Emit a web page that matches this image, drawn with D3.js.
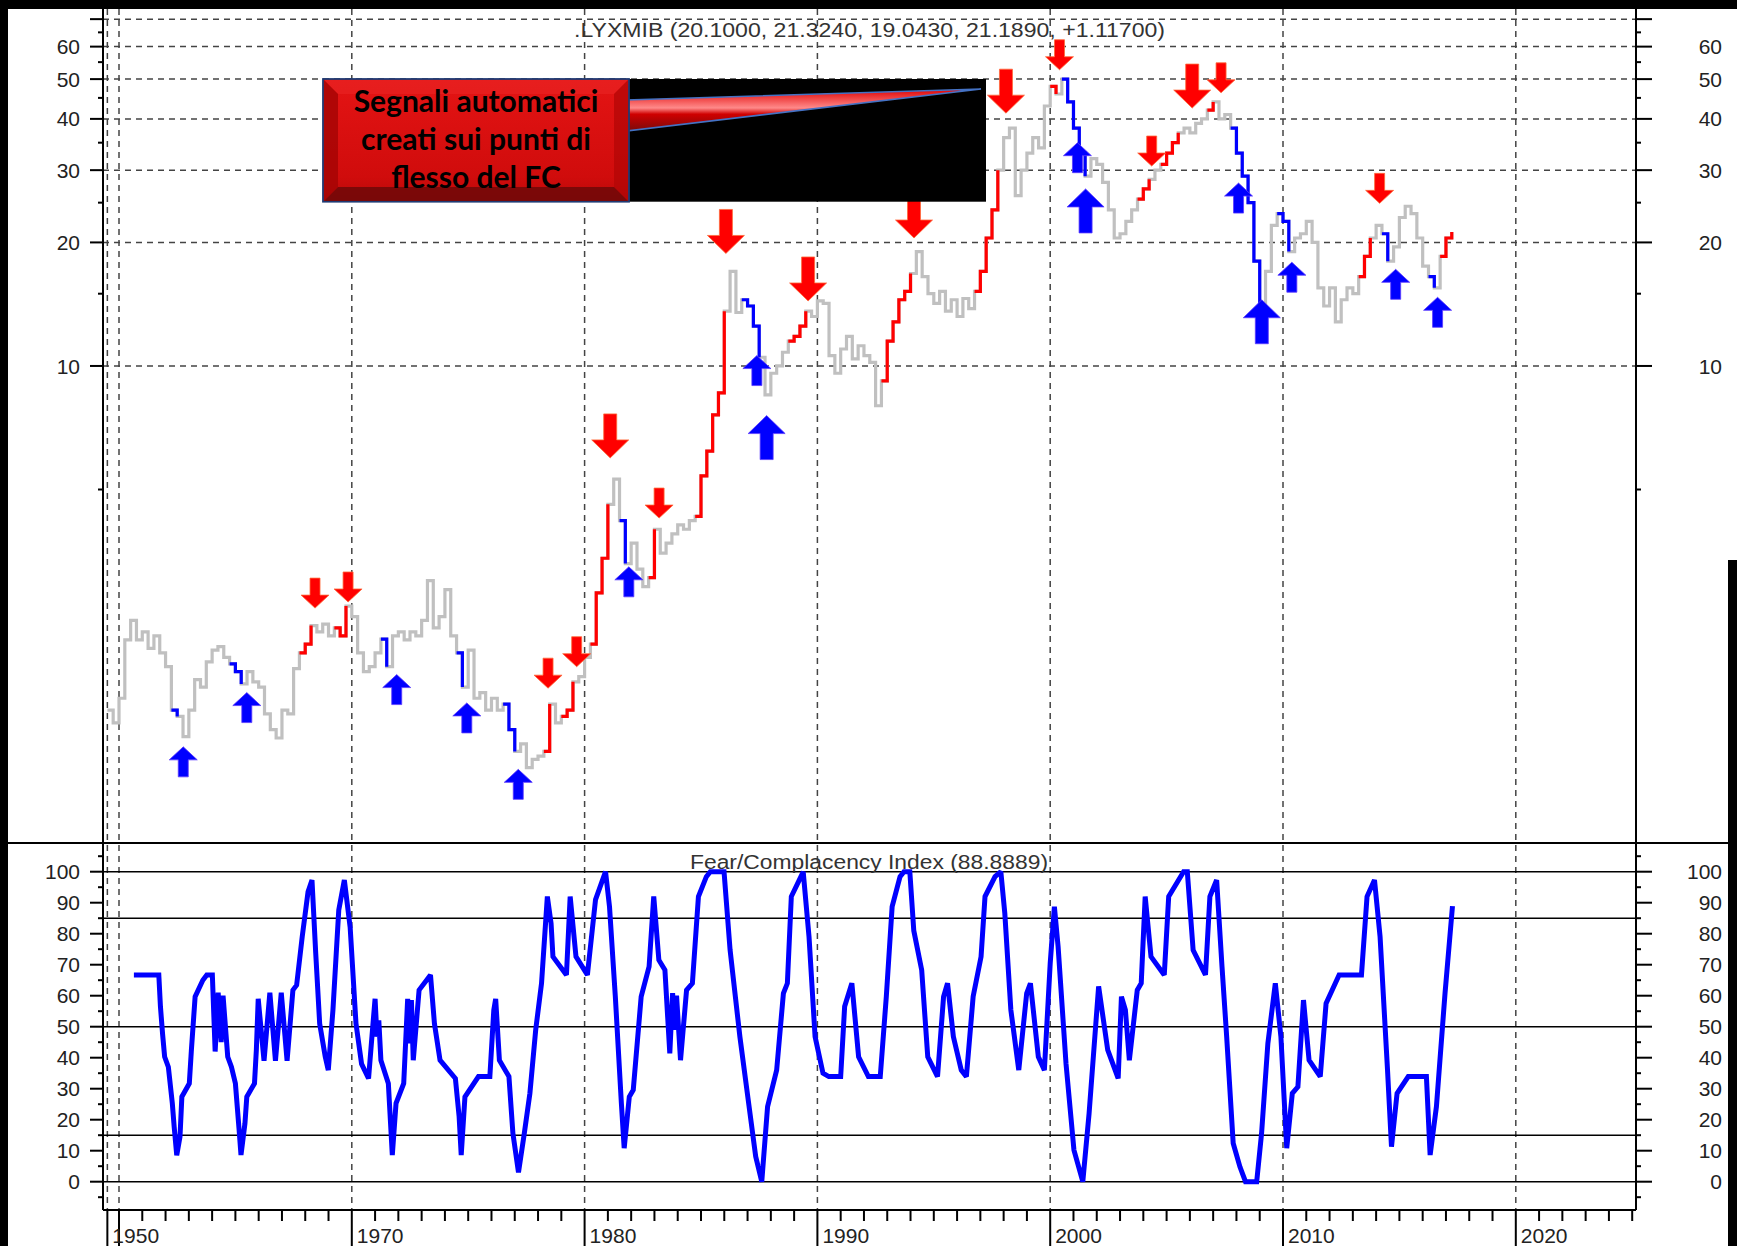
<!DOCTYPE html>
<html>
<head>
<meta charset="utf-8">
<script src="https://cdn.jsdelivr.net/npm/d3@7"></script>
<style>
body { margin: 0; background: #fff; }
text { font-family: "Liberation Sans", Arial, sans-serif; }
</style>
</head>
<body>
<script>
const width = 1737;
const height = 1246;

// quarterly closes of the index, first value is 1959.5
const priceStart = 1959.5;
const priceValues = [
    1.45, 1.35,
    1.55, 2.15, 2.4, 2.15,   2.25, 2.05, 2.2, 2.0,    1.85, 1.45, 1.4, 1.25,   1.45, 1.72, 1.65, 1.9,
    2.03, 2.07, 1.95, 1.88,  1.8, 1.68, 1.8, 1.7,     1.65, 1.42, 1.3, 1.24,   1.45, 1.42, 1.83, 2.0,
    2.1, 2.33, 2.25, 2.35,   2.2, 2.3, 2.2, 2.6,      2.45, 2.0, 1.8, 1.85,    2.0, 2.16, 1.85, 2.2,
    2.25, 2.15, 2.25, 2.2,   2.4, 3.0, 2.3, 2.45,     2.85, 2.2, 2.0, 1.65,    2.03, 1.55, 1.6, 1.45,
    1.55, 1.45, 1.5, 1.3,    1.15, 1.2, 1.05, 1.1,    1.12, 1.15, 1.5, 1.35,   1.4, 1.45, 1.7, 1.75,
    1.95, 2.1, 2.8, 3.4,     4.6, 5.3, 4.2, 3.3,      3.7, 3.2, 2.9, 3.05,     4.0, 3.5, 3.7, 3.9,
    4.1, 4.0, 4.2, 4.3,      5.4, 6.2, 7.6, 8.6,      13.6, 17.0, 13.5, 14.5,  14.0, 12.5, 10.5, 8.5,
    9.6, 10.0, 10.8, 11.5,   11.8, 12.5, 13.6, 13.2,  14.4, 14.2, 10.6, 9.6,   11.0, 11.8, 10.4, 11.2,
    10.6, 10.2, 8.0, 9.2,    11.5, 12.8, 14.5, 15.2,  16.8, 19.0, 16.5, 15.0,  14.2, 15.2, 13.6, 14.5,
    13.2, 14.6, 13.8, 15.2,  17.0, 20.5, 24.0, 30.0,  36.0, 38.0, 26.0, 30.0,  33.0, 36.0, 34.0, 43.0,
    48.0, 46.0, 50.0, 44.0,  38.0, 33.0, 29.0, 32.0,  31.0, 28.0, 24.0, 20.5,  21.0, 22.5, 24.0, 25.5,
    27.0, 28.5, 30.0, 31.0,  33.0, 35.0, 37.0, 38.0,  37.0, 39.0, 40.0, 42.0,  44.0, 40.0, 41.0, 38.0,
    33.0, 29.0, 25.0, 18.0,  13.0, 17.0, 22.0, 23.5,  22.5, 19.0, 20.5, 21.0,  22.5, 20.0, 15.5, 14.0,
    15.5, 12.8, 14.5, 15.5,  15.0, 16.5, 18.5, 20.5,  22.0, 21.0, 18.0, 19.5,  23.0, 24.5, 23.5, 20.5,
    17.5, 16.5, 15.5, 18.5,  20.5, 21.2
];

// periods painted as signals (years, start and end)
const redRanges = [
    [1967.75, 1968.25], [1969.25, 1969.75], [1978.25, 1978.5], [1979.0, 1979.5],
    [1980.25, 1981.0], [1982.75, 1983.0], [1984.75, 1986.0], [1988.75, 1989.5],
    [1992.75, 1994.0], [1996.75, 1997.75], [2000.0, 2000.25], [2003.75, 2004.25],
    [2004.75, 2005.5], [2006.75, 2007.0], [2013.25, 2013.75], [2016.75, 2017.25]
];
const blueRanges = [
    [1962.25, 1962.5], [1964.75, 1965.25], [1971.25, 1971.5], [1974.5, 1974.75],
    [1976.5, 1977.0], [1981.5, 1981.75], [1986.75, 1987.5], [2000.5, 2001.5],
    [2007.75, 2009.0], [2009.75, 2010.25], [2014.25, 2014.5], [2016.25, 2016.5]
];

// sell / buy arrows: year, price level at the arrow tip, big or small
const downYears = [1968.42, 1969.84, 1978.43, 1979.66, 1981.1, 1983.2, 1986.07, 1989.6, 1994.15, 1998.1, 2000.4, 2004.36, 2006.1, 2007.34, 2014.15];
const downLevels = [2.57, 2.66, 1.64, 1.85, 5.97, 4.26, 18.8, 14.4, 20.5, 41.3, 52.7, 30.7, 42.5, 46.3, 24.9];
const downBig = [0, 0, 0, 0, 1, 0, 1, 1, 1, 1, 0, 0, 1, 0, 0];
const upYears = [1962.76, 1965.49, 1971.93, 1974.94, 1977.15, 1981.9, 1987.4, 1987.82, 2001.17, 2001.52, 2008.09, 2009.09, 2010.38, 2014.84, 2016.64];
const upLevels = [1.18, 1.6, 1.77, 1.51, 1.04, 3.24, 10.6, 7.57, 35, 27, 27.9, 14.5, 17.9, 17.2, 14.7];
const upBig = [0, 0, 0, 0, 0, 0, 0, 1, 0, 1, 0, 1, 0, 0, 0];

// Fear/Complacency index
const fcYears = [
    1960.64, 1961.71, 1961.78, 1961.87, 1961.96, 1962.12, 1962.29, 1962.37, 1962.48, 1962.62, 1962.7, 1963.02, 1963.11, 1963.27, 1963.6, 1963.77,
    1964.01, 1964.13, 1964.26, 1964.39, 1964.47, 1964.67, 1964.83, 1965.0, 1965.16, 1965.24, 1965.41, 1965.49, 1965.82, 1965.9, 1965.98,
    1966.23, 1966.48, 1966.72, 1966.97, 1967.22, 1967.47, 1967.63, 1967.87, 1968.12, 1968.29, 1968.45, 1968.62, 1968.86, 1968.99,
    1969.19, 1969.44, 1969.68, 1969.93, 1970.18, 1970.42, 1970.72, 1970.91, 1971.0, 1971.08, 1971.16, 1971.25, 1971.57, 1971.74, 1971.9,
    1972.23, 1972.4, 1972.48, 1972.56, 1972.64, 1972.89, 1973.38, 1973.55, 1973.79, 1974.45, 1974.61, 1974.7, 1974.86, 1975.44, 1975.93,
    1976.1, 1976.18, 1976.34, 1976.75, 1976.92, 1977.16, 1977.41, 1977.65, 1977.9, 1978.15, 1978.4, 1978.56, 1978.64, 1979.22, 1979.38,
    1979.63, 1980.12, 1980.47, 1980.9, 1981.07, 1981.32, 1981.58, 1981.7, 1981.92, 1982.09, 1982.43, 1982.77, 1982.97, 1983.19, 1983.45,
    1983.66, 1983.78, 1983.87, 1983.95, 1984.12, 1984.38, 1984.63, 1984.89, 1985.23, 1985.4, 1985.99, 1986.25, 1986.67, 1987.01, 1987.35,
    1987.61, 1987.86, 1988.25, 1988.54, 1988.71, 1988.88, 1989.22, 1989.39, 1989.64, 1989.9, 1990.24, 1990.49, 1991.0, 1991.17, 1991.48,
    1991.77, 1992.19, 1992.7, 1992.96, 1993.21, 1993.55, 1993.72, 1993.97, 1994.14, 1994.48, 1994.74, 1995.16, 1995.42, 1995.59, 1995.84,
    1996.18, 1996.4, 1996.69, 1997.03, 1997.2, 1997.63, 1997.88, 1998.05, 1998.31, 1998.65, 1998.99, 1999.15, 1999.49, 1999.75, 2000.0,
    2000.18, 2000.34, 2000.68, 2001.02, 2001.4, 2001.67, 2001.96, 2002.08, 2002.47, 2002.92, 2003.06, 2003.23, 2003.4, 2003.74, 2003.91,
    2004.08, 2004.33, 2004.9, 2005.09, 2005.73, 2005.89, 2006.14, 2006.67, 2006.86, 2007.15, 2007.38, 2007.58, 2007.86, 2008.15, 2008.39,
    2008.87, 2009.08, 2009.35, 2009.67, 2009.91, 2010.16, 2010.4, 2010.64, 2010.88, 2011.12, 2011.6, 2011.85, 2012.41, 2013.37, 2013.61,
    2013.93, 2014.17, 2014.49, 2014.66, 2014.9, 2015.38, 2016.16, 2016.32, 2016.59, 2016.96, 2017.28
];
const fcValues = [
    66.7, 66.7, 56.5, 47.8, 40.3, 37, 25.3, 17.7, 8.5, 14.5, 27.4, 31.7, 42.5, 59.7, 65, 66.7,
    66.7, 42, 61, 45, 60, 40.3, 37, 31.7, 16.7, 8.6, 18.8, 27.4, 31.7, 42.5, 59,
    39, 61, 39, 61, 39, 61.8, 63.4, 79, 93.5, 97.3, 73.7, 51, 40.3, 36,
    55.4, 87.6, 97.3, 82, 51, 38, 33.3, 51, 59, 46.8, 52, 39.2, 31.7, 8.6, 25.3,
    31.7, 59, 44.6, 58.6, 39.2, 61.8, 66.7, 51, 39.2, 33.3, 21, 8.6, 27.4, 33.9, 33.9,
    55.4, 59, 39.2, 33.9, 15.6, 3, 15.6, 28.5, 49, 64, 92, 83.3, 72.6, 66.7, 92,
    72.6, 66.7, 91, 100, 88.7, 59.7, 25.3, 10.8, 27.4, 29.6, 59.7, 69.4, 92, 71.5, 68.3,
    41.4, 60.8, 49, 60, 39.2, 61.8, 64, 92, 98.4, 100, 100, 74.7, 46.8, 27.4, 8.1,
    0, 24.2, 36, 60.8, 64, 92, 97.3, 100, 79, 46.8, 35, 33.9, 33.9, 56.5, 64,
    40.3, 33.9, 33.9, 59.7, 88.7, 98.4, 100, 100, 81, 68.3, 40.3, 33.9, 59.7, 64, 46.8,
    36, 33.9, 59.7, 72.6, 92, 98.4, 100, 86.6, 55.4, 36, 60.8, 64, 40.3, 36, 70.4,
    88.7, 75.8, 38, 10.2, 0, 22, 51, 63, 42.5, 33.3, 59.7, 55.4, 39.2, 61.8, 64,
    92, 72.6, 66.7, 92, 100, 100, 74.7, 66.7, 92, 97.3, 69.4, 46.8, 12.4, 4.8, 0,
    0, 15.6, 44.6, 64, 46.8, 10.8, 28.5, 30.6, 58.6, 39.2, 33.9, 57.5, 66.7, 66.7, 92,
    97.3, 79, 36, 11.3, 28.5, 33.9, 33.9, 8.6, 24.2, 60.8, 88.9
];

const priceTicks = [10, 20, 30, 40, 50, 60, 70];
const priceLabels = ["10", "20", "30", "40", "50", "60", ""];
const priceMinor = [5, 15, 25, 35, 45, 55, 65];
const fcTicks = [0, 10, 20, 30, 40, 50, 60, 70, 80, 90, 100];
const fcMinor = [-5, 5, 15, 25, 35, 45, 55, 65, 75, 85, 95, 105];
const fcLevels = [0, 15, 50, 85, 100];
const yearTicks = [1959.5, 1960, 1970, 1980, 1990, 2000, 2010, 2020];
const yearLabels = ["1950", "", "1970", "1980", "1990", "2000", "2010", "2020"];
const yearMinor = [1961, 1962, 1963, 1964, 1965, 1966, 1967, 1968, 1969, 1971, 1972, 1973, 1974, 1975, 1976, 1977, 1978, 1979,
    1981, 1982, 1983, 1984, 1985, 1986, 1987, 1988, 1989, 1991, 1992, 1993, 1994, 1995, 1996, 1997, 1998, 1999,
    2001, 2002, 2003, 2004, 2005, 2006, 2007, 2008, 2009, 2011, 2012, 2013, 2014, 2015, 2016, 2017, 2018, 2019,
    2021, 2022, 2023, 2024, 2025];

const priceTitle = ".LYXMIB (20.1000, 21.3240, 19.0430, 21.1890, +1.11700)";
const fcTitle = "Fear/Complacency Index (88.8889)";
const calloutLines = ["Segnali automatici", "creati sui punti di", "flesso del FC"];

const plotLeft = 103, plotRight = 1636, plotTop = 9, split = 843, plotBottom = 1210;

const svg = d3.select("body")
    .append("svg")
    .attr("width", width)
    .attr("height", height);

const x = d3.scaleLinear().domain([1960, 2020]).range([119, 1515.8]);
const yP = d3.scaleLog().domain([0.688, 74.1]).range([split, plotTop]);
const yF = d3.scaleLinear().domain([-9.13, 109.26]).range([plotBottom, split]);

svg.append("rect").attr("width", width).attr("height", height).attr("fill", "#fff");

// grids
svg.append("g").selectAll("line")
    .data(priceTicks)
    .enter().append("line")
    .attr("x1", plotLeft).attr("x2", plotRight)
    .attr("y1", d => yP(d)).attr("y2", d => yP(d))
    .attr("stroke", "#444").attr("stroke-width", 1.5).attr("stroke-dasharray", "6,5");

svg.append("g").selectAll("line")
    .data(yearTicks)
    .enter().append("line")
    .attr("x1", d => x(d)).attr("x2", d => x(d))
    .attr("y1", plotTop).attr("y2", plotBottom)
    .attr("stroke", "#444").attr("stroke-width", 1.5).attr("stroke-dasharray", "6,5");

svg.append("g").selectAll("line")
    .data(fcLevels)
    .enter().append("line")
    .attr("x1", plotLeft).attr("x2", plotRight)
    .attr("y1", d => yF(d)).attr("y2", d => yF(d))
    .attr("stroke", "#000").attr("stroke-width", 1.6);

// price bars
const priceData = priceValues.map((v, i) => [priceStart + i * 0.25, v]);
const priceLine = d3.line()
    .x(d => x(d[0]))
    .y(d => yP(d[1]))
    .curve(d3.curveStepAfter);

svg.append("path")
    .attr("d", priceLine(priceData))
    .attr("fill", "none").attr("stroke", "#c0c0c0").attr("stroke-width", 3.2);

function paintRanges(ranges, color) {
    svg.append("g").selectAll("path")
        .data(ranges)
        .enter().append("path")
        .attr("d", r => priceLine(priceData.filter(d => d[0] >= r[0] - 1e-6 && d[0] <= r[1] + 1e-6)))
        .attr("fill", "none").attr("stroke", color).attr("stroke-width", 3.2);
}
paintRanges(redRanges, "#ff0000");
paintRanges(blueRanges, "#0000ff");

// arrows
function arrowPoints(cx, tip, big, dir) {
    const total = big ? 44 : 30, shaft = big ? 6.5 : 5, head = big ? 18.5 : 14, hh = big ? 18 : 13;
    const base = tip - dir * hh, end = tip - dir * total;
    return [[cx - shaft, end], [cx + shaft, end], [cx + shaft, base], [cx + head, base],
        [cx, tip], [cx - head, base], [cx - shaft, base]].map(p => p.join(",")).join(" ");
}

svg.append("g").selectAll("polygon")
    .data(downYears)
    .enter().append("polygon")
    .attr("points", (d, i) => arrowPoints(x(d), yP(downLevels[i]), downBig[i], 1))
    .attr("fill", "#ff0000").attr("stroke", "#ff6a3a").attr("stroke-width", 0.8);

svg.append("g").selectAll("polygon")
    .data(upYears)
    .enter().append("polygon")
    .attr("points", (d, i) => arrowPoints(x(d), yP(upLevels[i]), upBig[i], -1))
    .attr("fill", "#0000ff").attr("stroke", "#5a3aff").attr("stroke-width", 0.8);

// callout
const defs = svg.append("defs");
const boxGrad = defs.append("linearGradient").attr("id", "boxGrad").attr("x1", 0).attr("y1", 0).attr("x2", 0).attr("y2", 1);
boxGrad.append("stop").attr("offset", "0%").attr("stop-color", "#e41414");
boxGrad.append("stop").attr("offset", "80%").attr("stop-color", "#d00c0c");
boxGrad.append("stop").attr("offset", "100%").attr("stop-color", "#b80808");
const tailGrad = defs.append("linearGradient").attr("id", "tailGrad").attr("x1", 0).attr("y1", 0).attr("x2", 0).attr("y2", 1);
tailGrad.append("stop").attr("offset", "0%").attr("stop-color", "#e00000");
tailGrad.append("stop").attr("offset", "45%").attr("stop-color", "#ff8a8a");
tailGrad.append("stop").attr("offset", "60%").attr("stop-color", "#d00000");
tailGrad.append("stop").attr("offset", "100%").attr("stop-color", "#7a0a0a");

svg.append("rect")
    .attr("x", 560).attr("y", 79).attr("width", 426).attr("height", 122.7)
    .attr("fill", "#000");

svg.append("polygon")
    .attr("points", "626,100 981,89 626,131")
    .attr("fill", "url(#tailGrad)").attr("stroke", "#4472c4").attr("stroke-width", 1.6);

const box = svg.append("g");
box.append("rect")
    .attr("x", 323).attr("y", 79).attr("width", 306).attr("height", 122.7)
    .attr("fill", "url(#boxGrad)").attr("stroke", "#1f3a73").attr("stroke-width", 1.8);
box.append("polygon")
    .attr("points", "324,80 628,80 614,94 338,94")
    .attr("fill", "#e82222").attr("opacity", 0.7);
box.append("polygon")
    .attr("points", "324,80 338,94 338,187 324,201")
    .attr("fill", "#a40404").attr("opacity", 0.8);
box.append("polygon")
    .attr("points", "628,80 628,201 614,187 614,94")
    .attr("fill", "#b00606").attr("opacity", 0.7);
box.append("polygon")
    .attr("points", "324,201 338,187 614,187 628,201")
    .attr("fill", "#6e0808").attr("opacity", 0.85);
box.selectAll("text")
    .data(calloutLines)
    .enter().append("text")
    .attr("x", 476)
    .attr("y", (d, i) => 112 + i * 38)
    .attr("text-anchor", "middle")
    .style("font-family", "Lato, 'Open Sans', sans-serif")
    .style("font-weight", 700)
    .style("font-size", "30px")
    .attr("fill", "#000")
    .text(d => d);

// fear / complacency line
const fcLine = d3.line()
    .x((d, i) => x(fcYears[i]))
    .y(d => yF(d));

svg.append("path")
    .attr("d", fcLine(fcValues))
    .attr("fill", "none").attr("stroke", "#0000ff").attr("stroke-width", 5)
    .attr("stroke-linejoin", "miter").attr("stroke-miterlimit", 2);

// frame lines
const frame = svg.append("g").attr("stroke", "#000").attr("stroke-width", 2);
frame.append("line").attr("x1", plotLeft).attr("x2", plotLeft).attr("y1", plotTop).attr("y2", plotBottom);
frame.append("line").attr("x1", plotRight).attr("x2", plotRight).attr("y1", plotTop).attr("y2", plotBottom);
frame.append("line").attr("x1", plotLeft).attr("x2", plotRight).attr("y1", plotBottom).attr("y2", plotBottom);
frame.append("line").attr("x1", 8).attr("x2", 1728).attr("y1", split).attr("y2", split);

// axes
function sideTicks(values, scale, len, isMinor) {
    const g = svg.append("g").attr("stroke", "#000").attr("stroke-width", 2);
    g.selectAll("line.l").data(values).enter().append("line")
        .attr("x1", plotLeft - len).attr("x2", plotLeft)
        .attr("y1", d => scale(d)).attr("y2", d => scale(d));
    g.selectAll("line.r").data(values).enter().append("line")
        .attr("x1", plotRight).attr("x2", plotRight + len + (isMinor ? 0 : 3))
        .attr("y1", d => scale(d)).attr("y2", d => scale(d));
}
sideTicks(priceTicks, yP, 13, false);
sideTicks(priceMinor, yP, 5, true);
sideTicks(fcTicks, yF, 13, false);
sideTicks(fcMinor, yF, 5, true);

function sideLabels(values, labels, scale) {
    const g = svg.append("g")
        .style("font-size", "21px").attr("fill", "#222").attr("text-anchor", "end");
    g.selectAll("text.l").data(values).enter().append("text")
        .attr("x", 80).attr("y", d => scale(d)).attr("dy", "0.36em")
        .text((d, i) => labels[i]);
    g.selectAll("text.r").data(values).enter().append("text")
        .attr("x", 1722).attr("y", d => scale(d)).attr("dy", "0.36em")
        .text((d, i) => labels[i]);
}
sideLabels(priceTicks, priceLabels, yP);
sideLabels(fcTicks, fcTicks.map(String), yF);

const xg = svg.append("g").attr("stroke", "#000").attr("stroke-width", 2);
xg.selectAll("line.m").data(yearMinor).enter().append("line")
    .attr("x1", d => x(d)).attr("x2", d => x(d))
    .attr("y1", plotBottom).attr("y2", plotBottom + 11);
xg.selectAll("line.M").data(yearTicks).enter().append("line")
    .attr("x1", d => x(d)).attr("x2", d => x(d))
    .attr("y1", plotBottom).attr("y2", height);

svg.append("g").selectAll("text")
    .data(yearTicks)
    .enter().append("text")
    .attr("x", d => x(d) + 5)
    .attr("y", 1243)
    .style("font-size", "21px").attr("fill", "#222")
    .text((d, i) => yearLabels[i]);

// titles
svg.append("text")
    .attr("x", 574).attr("y", 37)
    .attr("textLength", 591).attr("lengthAdjust", "spacingAndGlyphs")
    .style("font-size", "20px").attr("fill", "#333")
    .text(priceTitle);
svg.append("text")
    .attr("x", 690).attr("y", 869)
    .attr("textLength", 358).attr("lengthAdjust", "spacingAndGlyphs")
    .style("font-size", "20px").attr("fill", "#333")
    .text(fcTitle);

// black border of the screenshot
svg.append("rect").attr("x", 0).attr("y", 0).attr("width", width).attr("height", 9).attr("fill", "#000");
svg.append("rect").attr("x", 0).attr("y", 0).attr("width", 8).attr("height", height).attr("fill", "#000");
svg.append("rect").attr("x", 1728).attr("y", 560).attr("width", 9).attr("height", height - 560).attr("fill", "#000");
</script>
</body>
</html>
